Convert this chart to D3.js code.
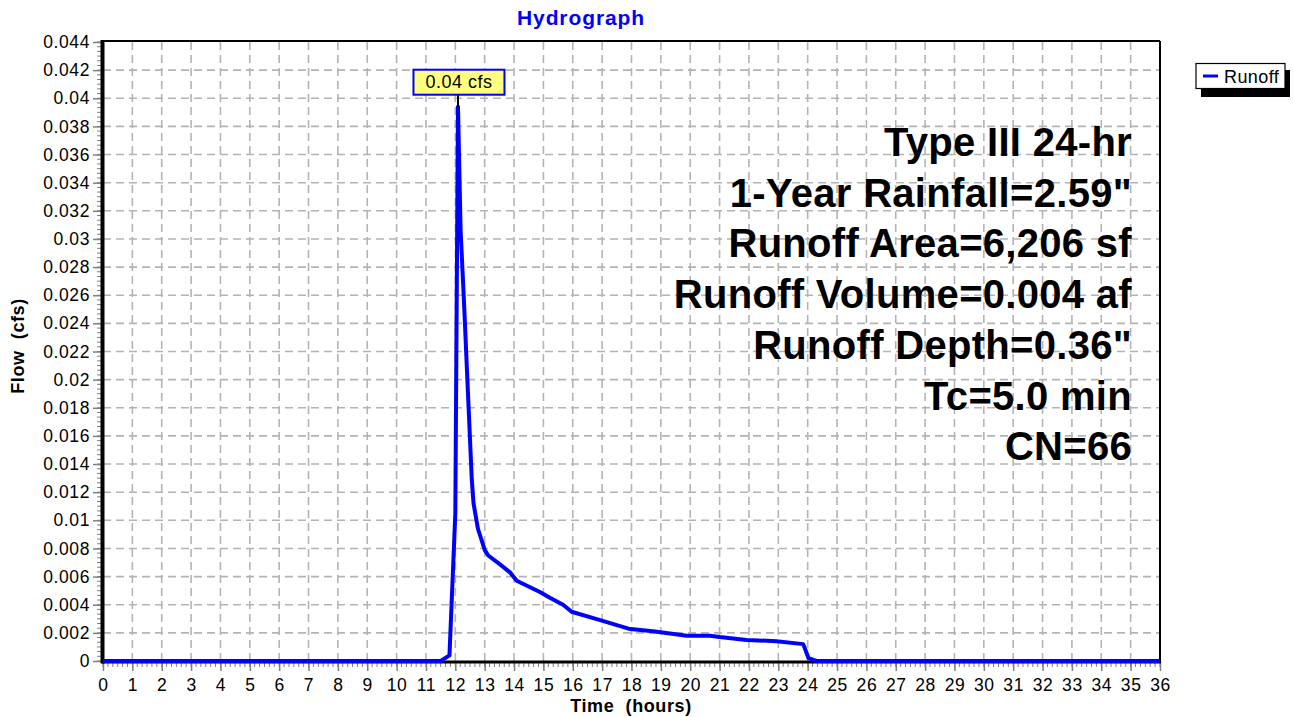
<!DOCTYPE html>
<html>
<head>
<meta charset="utf-8">
<script src="https://cdn.jsdelivr.net/npm/d3@7"></script>
<style>
  html, body { margin: 0; padding: 0; background: #fff; }
  svg { display: block; font-family: "Liberation Sans", Arial, sans-serif; }
</style>
</head>
<body>
<svg id="chart" width="1294" height="717"></svg>
<script>
// ---- data ----
const timeHours = [0, 11.5, 11.8, 12.0, 12.09, 12.18, 12.3, 12.41, 12.56, 12.62, 12.77, 13.0, 13.12, 13.5, 13.86, 14.09, 14.88, 15.22, 15.67, 15.96, 16.93, 17.9, 18.8, 19.88, 20.67, 21.0, 21.46, 21.92, 22.94, 23.85, 24.03, 24.3, 36];
const flowCfs   = [0, 0, 0.0004, 0.0105, 0.0394, 0.0306, 0.0253, 0.020, 0.0129, 0.0112, 0.0094, 0.0079, 0.0075, 0.0069, 0.0063, 0.0057, 0.0049, 0.0045, 0.0040, 0.0035, 0.0029, 0.0023, 0.0021, 0.0018, 0.0018, 0.0017, 0.0016, 0.0015, 0.0014, 0.0012, 0.0002, 0, 0];
const xTicks = d3.range(0, 37, 1);
const yTicks = [0, 0.002, 0.004, 0.006, 0.008, 0.01, 0.012, 0.014, 0.016, 0.018, 0.02, 0.022, 0.024, 0.026, 0.028, 0.03, 0.032, 0.034, 0.036, 0.038, 0.04, 0.042, 0.044];
const yTickLabels = ["0", "0.002", "0.004", "0.006", "0.008", "0.01", "0.012", "0.014", "0.016", "0.018", "0.02", "0.022", "0.024", "0.026", "0.028", "0.03", "0.032", "0.034", "0.036", "0.038", "0.04", "0.042", "0.044"];
const infoLines = ["Type III 24-hr", "1-Year Rainfall=2.59\"", "Runoff Area=6,206 sf", "Runoff Volume=0.004 af", "Runoff Depth=0.36\"", "Tc=5.0 min", "CN=66"];
const peakLabel = "0.04 cfs";
const seriesName = "Runoff";
const titleText = "Hydrograph";
const xTitle = "Time  (hours)";
const yTitle = "Flow  (cfs)";

// ---- layout ----
const L = 103, R = 1160, T = 42, B = 661;
const svg = d3.select("#chart");
const x = d3.scaleLinear().domain([0, 36]).range([L, R]);
const y = d3.scaleLinear().domain([0, 0.044]).range([B, T]);

// grid
const grid = svg.append("g");
grid.selectAll("line.v").data(xTicks.slice(1, -1)).join("line")
  .attr("x1", d => x(d)).attr("x2", d => x(d)).attr("y1", T).attr("y2", B)
  .attr("stroke", "#b4b4b4").attr("stroke-width", 1.6).attr("stroke-dasharray", "8,5");
grid.selectAll("line.h").data(yTicks.slice(1, -1)).join("line")
  .attr("y1", d => y(d)).attr("y2", d => y(d)).attr("x1", L).attr("x2", R)
  .attr("stroke", "#b4b4b4").attr("stroke-width", 1.6).attr("stroke-dasharray", "8,5");

// minor ticks
const xMinor = d3.range(0, 36 * 6 + 1).map(i => i / 6);
const yMinor = d3.range(0, 22 * 6 + 1).map(i => i * 0.002 / 6);
svg.append("g").selectAll("line").data(xMinor).join("line")
  .attr("x1", d => x(d)).attr("x2", d => x(d)).attr("y1", B).attr("y2", B + 6)
  .attr("stroke", "#808080").attr("stroke-width", 1);
svg.append("g").selectAll("line").data(yMinor).join("line")
  .attr("y1", d => y(d)).attr("y2", d => y(d)).attr("x1", L - 6).attr("x2", L)
  .attr("stroke", "#808080").attr("stroke-width", 1);

// axes with d3
const xAxis = d3.axisBottom(x).tickValues(xTicks).tickSize(10).tickPadding(8).tickFormat(d3.format("d"));
const gx = svg.append("g").attr("transform", `translate(0,${B})`).call(xAxis);
gx.select(".domain").remove();
gx.selectAll(".tick line").attr("stroke", "#808080").attr("stroke-width", 1.5);
gx.selectAll(".tick text").attr("font-size", 17.5).attr("fill", "#000")
  .attr("font-family", "Liberation Sans, Arial, sans-serif").style("letter-spacing", "0.6px");

const yAxis = d3.axisLeft(y).tickValues(yTicks).tickSize(10).tickPadding(3)
  .tickFormat((d, i) => yTickLabels[i]);
const gy = svg.append("g").attr("transform", `translate(${L},0)`).call(yAxis);
gy.select(".domain").remove();
gy.selectAll(".tick line").attr("stroke", "#808080").attr("stroke-width", 1.5);
gy.selectAll(".tick text").attr("font-size", 17.5).attr("fill", "#000")
  .attr("font-family", "Liberation Sans, Arial, sans-serif").style("letter-spacing", "0.6px");

// frame
svg.append("line").attr("x1", L).attr("x2", R).attr("y1", T - 1).attr("y2", T - 1).attr("stroke", "#000").attr("stroke-width", 2);
svg.append("line").attr("x1", R).attr("x2", R).attr("y1", T - 1).attr("y2", B).attr("stroke", "#000").attr("stroke-width", 2);
svg.append("line").attr("x1", L - 1).attr("x2", R + 1).attr("y1", B + 1).attr("y2", B + 1).attr("stroke", "#000").attr("stroke-width", 3);
svg.append("line").attr("x1", L - 0.5).attr("x2", L - 0.5).attr("y1", T - 2).attr("y2", B + 2.5).attr("stroke", "#000").attr("stroke-width", 4);

// info text
const info = svg.append("g");
info.selectAll("text").data(infoLines).join("text")
  .attr("x", 1132).attr("y", (d, i) => 156 + i * 50.7)
  .attr("text-anchor", "end").attr("font-weight", "bold").attr("font-size", 40)
  .style("letter-spacing", "0.3px")
  .attr("fill", "#000").text(d => d);

// series line
const pts = timeHours.map((t, i) => [t, flowCfs[i]]);
const line = d3.line().x(d => x(d[0])).y(d => y(d[1]));
svg.append("path").datum(pts).attr("d", line)
  .attr("fill", "none").attr("stroke", "#0000ff").attr("stroke-width", 4)
  .attr("stroke-linejoin", "round").attr("stroke-linecap", "butt");

// peak label
const peakIdx = d3.maxIndex(flowCfs);
const px = x(timeHours[peakIdx]), py = y(flowCfs[peakIdx]);
const bw = 91, bh = 25;
const bx = px - bw / 2 + 1, by = py - 37;
svg.append("line").attr("x1", px).attr("x2", px).attr("y1", by + bh).attr("y2", py)
  .attr("stroke", "#000").attr("stroke-width", 2);
svg.append("rect").attr("x", bx).attr("y", by).attr("width", bw).attr("height", bh)
  .attr("fill", "#ffff80").attr("stroke", "#0000ff").attr("stroke-width", 2);
svg.append("text").attr("x", bx + bw / 2).attr("y", by + 18.5).attr("text-anchor", "middle")
  .attr("font-size", 18).style("letter-spacing", "0.5px").attr("fill", "#000").text(peakLabel);

// legend
svg.append("rect").attr("x", 1201).attr("y", 70).attr("width", 89).attr("height", 27).attr("fill", "#000");
svg.append("rect").attr("x", 1196).attr("y", 63.5).attr("width", 89).attr("height", 25)
  .attr("fill", "#fff").attr("stroke", "#000").attr("stroke-width", 1.2);
svg.append("line").attr("x1", 1203).attr("x2", 1218).attr("y1", 76).attr("y2", 76)
  .attr("stroke", "#0000ff").attr("stroke-width", 3);
svg.append("text").attr("x", 1224).attr("y", 83).attr("font-size", 18).style("letter-spacing", "0.4px")
  .attr("fill", "#000").text(seriesName);

// titles
svg.append("text").attr("x", 581).attr("y", 25).attr("text-anchor", "middle")
  .attr("font-weight", "bold").attr("font-size", 21).style("letter-spacing", "0.9px")
  .attr("fill", "#0000ff").text(titleText);
svg.append("text").attr("x", 631).attr("y", 712).attr("text-anchor", "middle")
  .attr("font-weight", "bold").attr("font-size", 18).style("letter-spacing", "0.6px")
  .attr("fill", "#000").style("white-space", "pre").text(xTitle);
svg.append("text").attr("transform", "translate(24,346) rotate(-90)").attr("text-anchor", "middle")
  .attr("font-weight", "bold").attr("font-size", 18).style("letter-spacing", "0.6px")
  .attr("fill", "#000").style("white-space", "pre").text(yTitle);
</script>
</body>
</html>
